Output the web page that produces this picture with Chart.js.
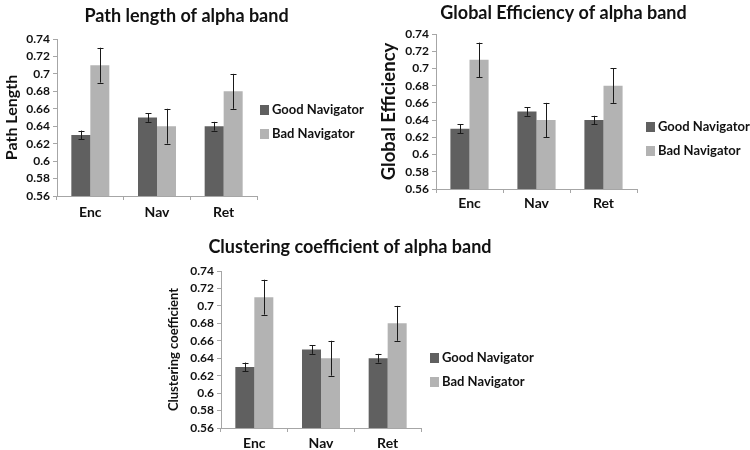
<!DOCTYPE html>
<html>
<head>
<meta charset="utf-8">
<script src="https://cdn.jsdelivr.net/npm/chart.js@4"></script>
<style>
    body { margin: 0; background: #fff; width: 750px; height: 450px; position: relative; overflow: hidden; font-family: Lato, sans-serif; }
    canvas { position: absolute; }
    .legend { position: absolute; font: bold 13px Lato, sans-serif; color: #111; }
    .legend div { height: 24px; line-height: 24px; white-space: nowrap; }
    .legend span { display: inline-block; width: 9px; height: 10px; margin-right: 3px; vertical-align: -1px; }
</style>
</head>
<body>
<canvas id="pathChart" width="373" height="224" style="left:0;top:0;"></canvas>
<canvas id="globalChart" width="375" height="216" style="left:376px;top:0;"></canvas>
<canvas id="clusterChart" width="380" height="222" style="left:160px;top:228px;"></canvas>

<div class="legend" style="left:260px;top:97px;"><div><span style="background:#606060"></span>Good Navigator</div><div><span style="background:#b3b3b3"></span>Bad Navigator</div></div>
<div class="legend" style="left:646px;top:114px;"><div><span style="background:#606060"></span>Good Navigator</div><div><span style="background:#b3b3b3"></span>Bad Navigator</div></div>
<div class="legend" style="left:430px;top:345px;"><div><span style="background:#606060"></span>Good Navigator</div><div><span style="background:#b3b3b3"></span>Bad Navigator</div></div>

<script>
'use strict'

// Task phases on the x axis.
const phases = ['Enc', 'Nav', 'Ret'];
const seriesNames = ['Good Navigator', 'Bad Navigator'];

// Y axis tick labels, bottom to top.
const yTickLabels = ['0.56', '0.58', '0.6', '0.62', '0.64', '0.66', '0.68', '0.7', '0.72', '0.74'];

// Path length.
const pathGood = [0.63, 0.65, 0.64];
const pathGoodErr = [0.005, 0.005, 0.005];
const pathBad = [0.71, 0.64, 0.68];
const pathBadErr = [0.02, 0.02, 0.02];

// Global efficiency.
const globalGood = [0.63, 0.65, 0.64];
const globalGoodErr = [0.005, 0.005, 0.005];
const globalBad = [0.71, 0.64, 0.68];
const globalBadErr = [0.02, 0.02, 0.02];

// Clustering coefficient.
const clusterGood = [0.63, 0.65, 0.64];
const clusterGoodErr = [0.005, 0.005, 0.005];
const clusterBad = [0.71, 0.64, 0.68];
const clusterBadErr = [0.02, 0.02, 0.02];

const colors = ['#606060', '#b3b3b3'];
const axisColor = '#a6a6a6';

/**
 * Draws the error bars of every dataset from its "errors" array.
 */
const errorBarPlugin = {
    id: 'errorBars',
    afterDatasetsDraw(chart) {
        const ctx = chart.ctx;
        const yScale = chart.scales.y;
        ctx.save();
        ctx.strokeStyle = '#1a1a1a';
        ctx.lineWidth = 1;
        chart.data.datasets.forEach((ds, i) => {
            const meta = chart.getDatasetMeta(i);
            meta.data.forEach((bar, j) => {
                const top = yScale.getPixelForValue(ds.data[j] + ds.errors[j]);
                const bottom = yScale.getPixelForValue(ds.data[j] - ds.errors[j]);
                const x = Math.round(bar.x) + 0.5;
                ctx.beginPath();
                ctx.moveTo(x, top);
                ctx.lineTo(x, bottom);
                ctx.moveTo(x - 3, Math.round(top) + 0.5);
                ctx.lineTo(x + 3, Math.round(top) + 0.5);
                ctx.moveTo(x - 3, Math.round(bottom) + 0.5);
                ctx.lineTo(x + 3, Math.round(bottom) + 0.5);
                ctx.stroke();
            });
        });
        ctx.restore();
    }
};

function makeChart(id, title, yTitle, good, goodErr, bad, badErr, opts) {
    const ctx = document.getElementById(id).getContext('2d');
    return new Chart(ctx, {
        type: 'bar',
        data: {
            labels: phases,
            datasets: [{
                label: seriesNames[0],
                data: good,
                errors: goodErr,
                backgroundColor: colors[0],
                yAxisID: 'y'
            }, {
                label: seriesNames[1],
                data: bad,
                errors: badErr,
                backgroundColor: colors[1],
                yAxisID: 'y'
            }]
        },
        options: {
            responsive: false,
            animation: false,
            datasets: {
                bar: { barPercentage: 1.0, categoryPercentage: 0.57 }
            },
            scales: {
                x: {
                    grid: { display: true, drawOnChartArea: false, offset: true, tickLength: 4, color: axisColor },
                    border: { color: axisColor },
                    ticks: { color: '#111', padding: opts.xPad, font: { family: 'Lato', size: 14, weight: 'bold' } },
                    afterFit: (scale) => { scale.height = opts.xHeight; }
                },
                y: {
                    min: 0.56,
                    max: 0.74,
                    grid: { drawOnChartArea: false, tickLength: 4, color: axisColor },
                    border: { color: axisColor },
                    ticks: {
                        stepSize: 0.02,
                        autoSkip: false,
                        color: '#111',
                        padding: 3,
                        font: { family: 'Lato', size: 12, weight: 'bold' },
                        callback: (value, index) => yTickLabels[index]
                    },
                    title: {
                        display: true,
                        text: yTitle,
                        color: '#111',
                        padding: { top: opts.yTitlePad, bottom: 0 },
                        font: { family: 'Lato', size: opts.yTitleSize, weight: 'bold' }
                    },
                    afterFit: (scale) => { scale.width = opts.yWidth; }
                },
                // Empty right axis that keeps room for the legend, so the title stays centred on the panel.
                yRoom: {
                    position: 'right',
                    min: 0.56,
                    max: 0.74,
                    grid: { display: false, drawTicks: false },
                    border: { display: false },
                    ticks: { display: false },
                    afterFit: (scale) => { scale.width = opts.padRight; }
                }
            },
            plugins: {
                legend: { display: false },
                tooltip: { enabled: false },
                title: {
                    display: true,
                    text: title,
                    color: '#111',
                    padding: { top: opts.titleTop, bottom: opts.titleBottom },
                    font: { family: 'Lato', size: 18, weight: 'bold' }
                }
            }
        },
        plugins: [errorBarPlugin]
    });
}

makeChart('pathChart', 'Path length of alpha band', 'Path Length',
    pathGood, pathGoodErr, pathBad, pathBadErr,
    { padRight: 116, xHeight: 28, xPad: 3.6, yWidth: 57, yTitlePad: 2, yTitleSize: 16, titleTop: 5, titleBottom: 12.4 });

makeChart('globalChart', 'Global Efficiency of alpha band', 'Global Efficiency',
    globalGood, globalGoodErr, globalBad, globalBadErr,
    { padRight: 114, xHeight: 27, xPad: 1.6, yWidth: 60, yTitlePad: 2, yTitleSize: 18.5, titleTop: 2, titleBottom: 10.4 });

makeChart('clusterChart', 'Clustering coefficient of alpha band', 'Clustering coefficient',
    clusterGood, clusterGoodErr, clusterBad, clusterBadErr,
    { padRight: 119, xHeight: 22, xPad: 2.6, yWidth: 61, yTitlePad: 6, yTitleSize: 13, titleTop: 8, titleBottom: 13.4 });
</script>
</body>
</html>
